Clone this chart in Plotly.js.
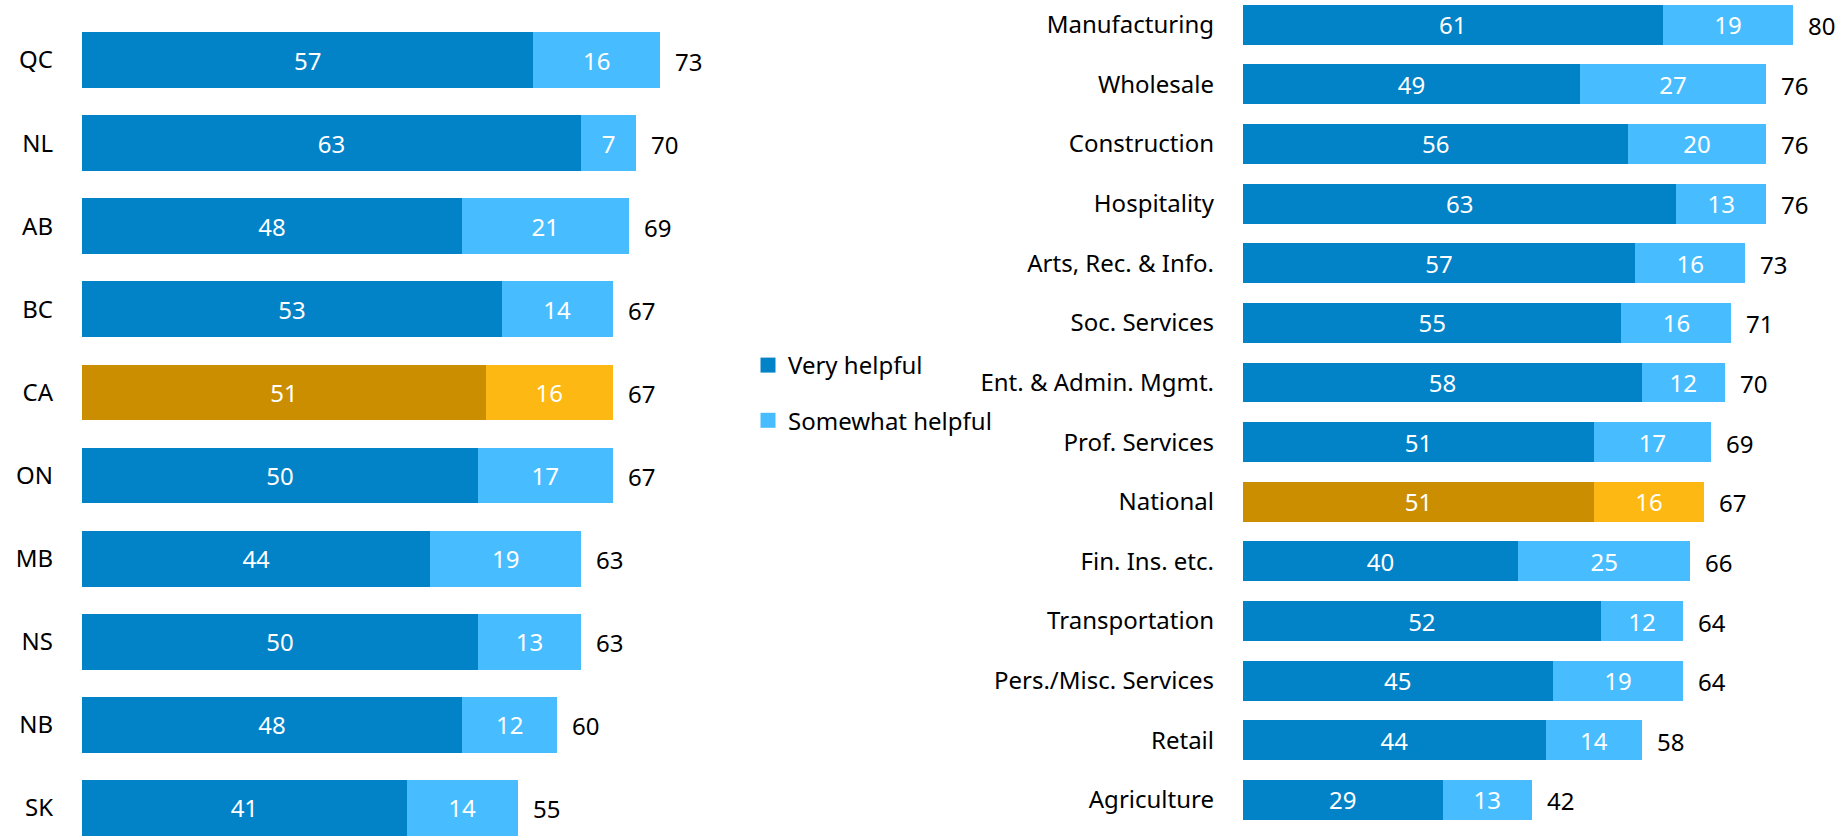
<!DOCTYPE html>
<html>
<head>
<meta charset="utf-8">
<script src="https://cdn.plot.ly/plotly-3.0.1.min.js"></script>
<style>
html,body{margin:0;padding:0;background:#fff;}
#chart{width:1845px;height:836px;}
</style>
</head>
<body>
<div id="chart"></div>
<script>
// ---- Data: provinces ----
var provCats = ["QC","NL","AB","BC","CA","ON","MB","NS","NB","SK"];
var provVery = [57,63,48,53,51,50,44,50,48,41];
var provSome = [16,7,21,14,16,17,19,13,12,14];
var provTotal = [73,70,69,67,67,67,63,63,60,55];
var provHighlight = "CA";

// ---- Data: sectors ----
var secCats = ["Manufacturing","Wholesale","Construction","Hospitality","Arts, Rec. & Info.","Soc. Services","Ent. & Admin. Mgmt.","Prof. Services","National","Fin. Ins. etc.","Transportation","Pers./Misc. Services","Retail","Agriculture"];
var secVery = [61,49,56,63,57,55,58,51,51,40,52,45,44,29];
var secSome = [19,27,20,13,16,16,12,17,16,25,12,19,14,13];
var secTotal = [80,76,76,76,73,71,70,69,67,66,64,64,58,42];
var secHighlight = "National";

var seriesNames = ["Very helpful","Somewhat helpful"];

// ---- Styles ----
var C_VERY = "#0282C7", C_SOME = "#47BDFF";
var C_VERY_H = "#CB8E00", C_SOME_H = "#FDB813";
var FONT = "Noto Sans, Open Sans, sans-serif";
var FS = 24;

function colors(cats, hl, base, hcol){ return cats.map(function(c){ return c===hl ? hcol : base; }); }
function sums(a,b){ return a.map(function(v,i){ return v+b[i]; }); }

function barTrace(x, y, col, xa, ya, name){
  return {type:"bar", orientation:"h", x:x, y:y, xaxis:xa, yaxis:ya, name:name,
    marker:{color:col, line:{width:0}}, width:0.67,
    text:x.map(String), textposition:"inside", insidetextanchor:"middle",
    textangle:0, constraintext:"none",
    insidetextfont:{color:"#ffffff", size:FS, family:FONT},
    hoverinfo:"skip", showlegend:false, cliponaxis:false};
}
function totalAnnotations(cats, very, some, tot, xa, ya){
  var ends = sums(very, some);
  return cats.map(function(c,i){
    return {x:ends[i], y:c, xref:xa, yref:ya, text:String(tot[i]), showarrow:false,
      xanchor:"left", yanchor:"middle", xshift:13, yshift:-1,
      font:{color:"#000000", size:FS, family:FONT}};
  });
}

var data = [
  barTrace(provVery, provCats, colors(provCats, provHighlight, C_VERY, C_VERY_H), "x", "y", seriesNames[0]),
  barTrace(provSome, provCats, colors(provCats, provHighlight, C_SOME, C_SOME_H), "x", "y", seriesNames[1]),
  barTrace(secVery, secCats, colors(secCats, secHighlight, C_VERY, C_VERY_H), "x2", "y2", seriesNames[0]),
  barTrace(secSome, secCats, colors(secCats, secHighlight, C_SOME, C_SOME_H), "x2", "y2", seriesNames[1]),
  // legend entries
  {type:"scatter", mode:"markers", x:[null], y:[null], xaxis:"x", yaxis:"y", name:seriesNames[0],
   marker:{symbol:"square", size:15, color:C_VERY}, legendgroup:"a", hoverinfo:"skip"},
  {type:"scatter", mode:"markers", x:[null], y:[null], xaxis:"x", yaxis:"y", name:seriesNames[1],
   marker:{symbol:"square", size:15, color:C_SOME}, legendgroup:"b", hoverinfo:"skip"}
];

var layout = {
  width:1845, height:836,
  margin:{l:0, r:0, t:0, b:0},
  paper_bgcolor:"#ffffff", plot_bgcolor:"#ffffff",
  barmode:"stack",
  font:{family:FONT, size:FS, color:"#000000"},
  showlegend:true,
  legend:{x:748/1845, xanchor:"left", y:1-343/836, yanchor:"top",
    font:{family:FONT, size:FS, color:"#000000"}, traceorder:"grouped",
    tracegroupgap:21, itemwidth:30, bgcolor:"rgba(0,0,0,0)"},
  annotations: totalAnnotations(provCats, provVery, provSome, provTotal, "x", "y")
    .concat(totalAnnotations(secCats, secVery, secSome, secTotal, "x2", "y2")),
  xaxis:{domain:[82/1845, 742/1845], range:[0, 83.33], visible:false, fixedrange:true},
  yaxis:{type:"category", categoryorder:"array", categoryarray:provCats,
    range:[9.337, -0.722], showgrid:false, zeroline:false, showline:false, ticks:"",
    ticklabelstandoff:28, tickfont:{family:FONT, size:FS, color:"#000000"}, fixedrange:true},
  xaxis2:{domain:[1243/1845, 1], range:[0, 87.5], visible:false, fixedrange:true, anchor:"y2"},
  yaxis2:{type:"category", categoryorder:"array", categoryarray:secCats, anchor:"x2",
    range:[13.604, -0.414], showgrid:false, zeroline:false, showline:false, ticks:"",
    ticklabelstandoff:28, tickfont:{family:FONT, size:FS, color:"#000000"}, fixedrange:true}
};

Plotly.newPlot("chart", data, layout, {displayModeBar:false, staticPlot:true});
</script>
</body>
</html>
